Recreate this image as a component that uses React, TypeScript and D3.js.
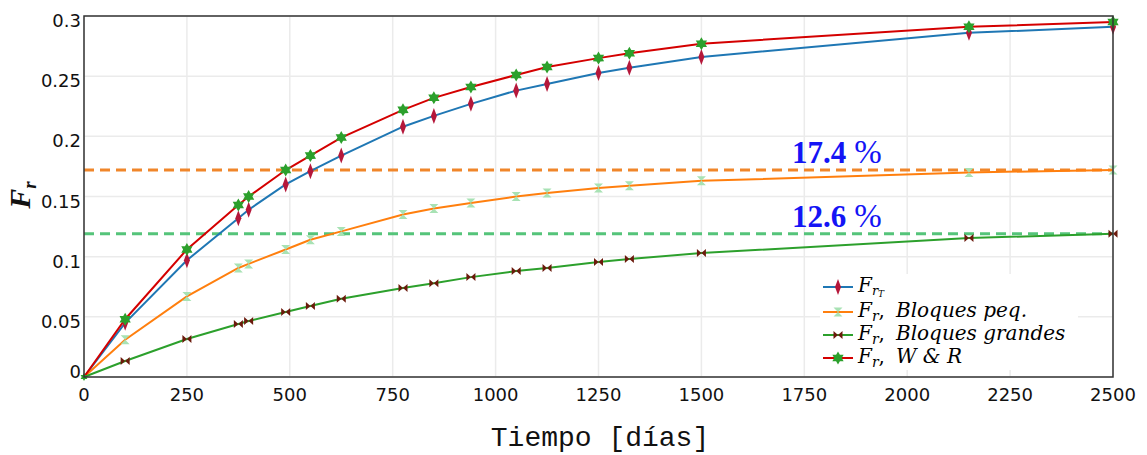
import React from "react";
import * as d3 from "d3";

const days = [0, 100, 250, 375, 400, 490, 550, 625, 775, 850, 940, 1050, 1125, 1250, 1325, 1500, 2150, 2500];
const frTotal = [0, 0.045, 0.097, 0.132, 0.139, 0.160, 0.171, 0.184, 0.208, 0.217, 0.227, 0.238, 0.2435, 0.2526, 0.257, 0.266, 0.286, 0.291];
const frPeq = [0, 0.031, 0.067, 0.0906, 0.094, 0.106, 0.114, 0.121, 0.135, 0.140, 0.1446, 0.150, 0.153, 0.157, 0.159, 0.163, 0.170, 0.172];
const frGrandes = [0, 0.0133, 0.0316, 0.044, 0.0465, 0.054, 0.059, 0.065, 0.074, 0.078, 0.083, 0.088, 0.0906, 0.0956, 0.098, 0.103, 0.1155, 0.119];
const frWR = [0, 0.048, 0.106, 0.143, 0.150, 0.172, 0.184, 0.199, 0.222, 0.232, 0.241, 0.251, 0.2576, 0.265, 0.269, 0.277, 0.291, 0.295];
const refLevels = [0.172, 0.119];
const refLabels = ["17.4", "12.6"];
const xTicks = [0, 250, 500, 750, 1000, 1250, 1500, 1750, 2000, 2250, 2500];
const yTicks = [0, 0.05, 0.1, 0.15, 0.2, 0.25, 0.3];

const W = 1147, H = 455;
const M = { left: 84, right: 1113, top: 16, bottom: 377 };

function diamondPath(cx: number, cy: number) {
  return `M${cx},${cy - 8}L${cx + 3},${cy}L${cx},${cy + 8}L${cx - 3},${cy}Z`;
}
function hourglassPath(cx: number, cy: number) {
  const w = 4.5, h = 4.5;
  return `M${cx - w},${cy - h}L${cx + w},${cy - h}L${cx},${cy}Z M${cx - w},${cy + h}L${cx + w},${cy + h}L${cx},${cy}Z`;
}
function bowtiePath(cx: number, cy: number) {
  const w = 4.5, h = 4;
  return `M${cx - w},${cy - h}L${cx - w},${cy + h}L${cx},${cy}Z M${cx + w},${cy - h}L${cx + w},${cy + h}L${cx},${cy}Z`;
}
function starPath(cx: number, cy: number) {
  const pts: string[] = [];
  const R = 6.5, r = 3.8;
  for (let i = 0; i < 12; i++) {
    const a = (Math.PI / 6) * i - Math.PI / 2;
    const rad = i % 2 === 0 ? R : r;
    pts.push(`${cx + rad * Math.cos(a)},${cy + rad * Math.sin(a)}`);
  }
  return "M" + pts.join("L") + "Z";
}

const series = [
  { vals: frTotal, color: "#1f77b4", marker: diamondPath, mcolor: "#b5173a", key: "t", origin: false },
  { vals: frPeq, color: "#ff7f0e", marker: hourglassPath, mcolor: "#a8e2b4", key: "p", origin: false },
  { vals: frGrandes, color: "#2ca02c", marker: bowtiePath, mcolor: "#6b1a0c", key: "g", origin: false },
  { vals: frWR, color: "#d40000", marker: starPath, mcolor: "#2ca02c", key: "w", origin: true },
];

export default function App() {
  const x = d3.scaleLinear().domain([0, 2500]).range([M.left, M.right]);
  const y = d3.scaleLinear().domain([0, 0.3]).range([M.bottom, M.top]);
  const fmt = d3.format("~g");
  const serif = "'DejaVu Serif', 'Liberation Serif', serif";
  const tickFont = "'DejaVu Sans', sans-serif";

  const legendRows = [
    { s: series[0], label: null },
    { s: series[1], label: "Bloques peq." },
    { s: series[2], label: "Bloques grandes" },
    { s: series[3], label: "W & R" },
  ];
  const legY = [287, 312, 335, 358];

  return (
    <svg width={W} height={H} style={{ position: "absolute", left: 0, top: 0, background: "#fff" }}>
      <rect x={0} y={0} width={W} height={H} fill="#fff" />
      {xTicks.map((t) => (
        <line key={"gx" + t} x1={x(t)} x2={x(t)} y1={M.top} y2={M.bottom} stroke="#ebebeb" strokeWidth={1.5} />
      ))}
      {yTicks.map((t) => (
        <line key={"gy" + t} x1={M.left} x2={M.right} y1={y(t)} y2={y(t)} stroke="#ebebeb" strokeWidth={1.5} />
      ))}
      {refLevels.map((v, i) => (
        <line key={"ref" + i} x1={M.left} x2={M.right} y1={y(v)} y2={y(v)}
          stroke={i === 0 ? "#f0862a" : "#55c47a"} strokeWidth={3} strokeDasharray="10,6" />
      ))}
      {series.map((s) => {
        const line = d3.line<number>().x((_, i) => x(days[i])).y((d) => y(d));
        return <path key={"l" + s.key} d={line(s.vals) || ""} fill="none" stroke={s.color} strokeWidth={2} />;
      })}
      {series.map((s) => (
        <g key={"m" + s.key}>
          {s.vals.map((v, i) =>
            i === 0 && !s.origin ? null : (
              <path key={i} d={s.marker(x(days[i]), y(v))} fill={s.mcolor} transform={i === 0 ? `translate(${x(days[i])},${y(v)}) scale(0.6) translate(${-x(days[i])},${-y(v)})` : undefined} />
            )
          )}
        </g>
      ))}
      {refLevels.map((v, i) => (
        <text key={"ann" + i} x={792} y={y(v) - 7} fill="#1414f5" fontFamily="'Liberation Serif', serif" fontSize={31}>
          <tspan fontWeight="bold">{refLabels[i]}</tspan>
          <tspan dx={8} fontSize={33}>%</tspan>
        </text>
      ))}
      <rect x={820} y={274} width={258} height={96} fill="#fff" />
      {legendRows.map((r, i) => (
        <g key={"lg" + i}>
          <line x1={823} x2={853} y1={legY[i]} y2={legY[i]} stroke={r.s.color} strokeWidth={2} />
          <path d={r.s.marker(838, legY[i])} fill={r.s.mcolor} />
          <text x={858} y={legY[i] + 5} fontFamily={serif} fontStyle="italic" fontSize={20} fill="#000">
            F
            {r.label === null ? (
              <>
                <tspan fontSize={13} dy={3}>r</tspan>
                <tspan fontSize={9} dy={2}>T</tspan>
              </>
            ) : (
              <>
                <tspan fontSize={14} dy={4}>r</tspan>
                <tspan dy={-4} fontStyle="normal">,</tspan>
                <tspan dx={11}>{r.label}</tspan>
              </>
            )}
          </text>
        </g>
      ))}
      <rect x={M.left} y={M.top} width={M.right - M.left} height={M.bottom - M.top} fill="none" stroke="#333" strokeWidth={1.5} />
      {xTicks.map((t) => (
        <text key={"tx" + t} x={x(t)} y={401} textAnchor="middle" fontFamily={tickFont} fontSize={18} fill="#111">
          {fmt(t)}
        </text>
      ))}
      {yTicks.map((t) => (
        <text key={"ty" + t} x={81} y={y(t) + (t === 0 ? 1 : 11)} textAnchor="end" fontFamily={tickFont} fontSize={18} fill="#111">
          {fmt(t)}
        </text>
      ))}
      <text x={600} y={446} textAnchor="middle" fontFamily="'Liberation Mono', 'DejaVu Sans Mono', monospace" fontSize={28} fill="#111">
        Tiempo [días]
      </text>
      <text transform="translate(30,195) rotate(-90)" textAnchor="middle" fontFamily="'Liberation Serif', serif" fontStyle="italic" fontWeight="bold" fontSize={30} fill="#111">
        F<tspan fontSize={19} dy={6}>r</tspan>
      </text>
    </svg>
  );
}
